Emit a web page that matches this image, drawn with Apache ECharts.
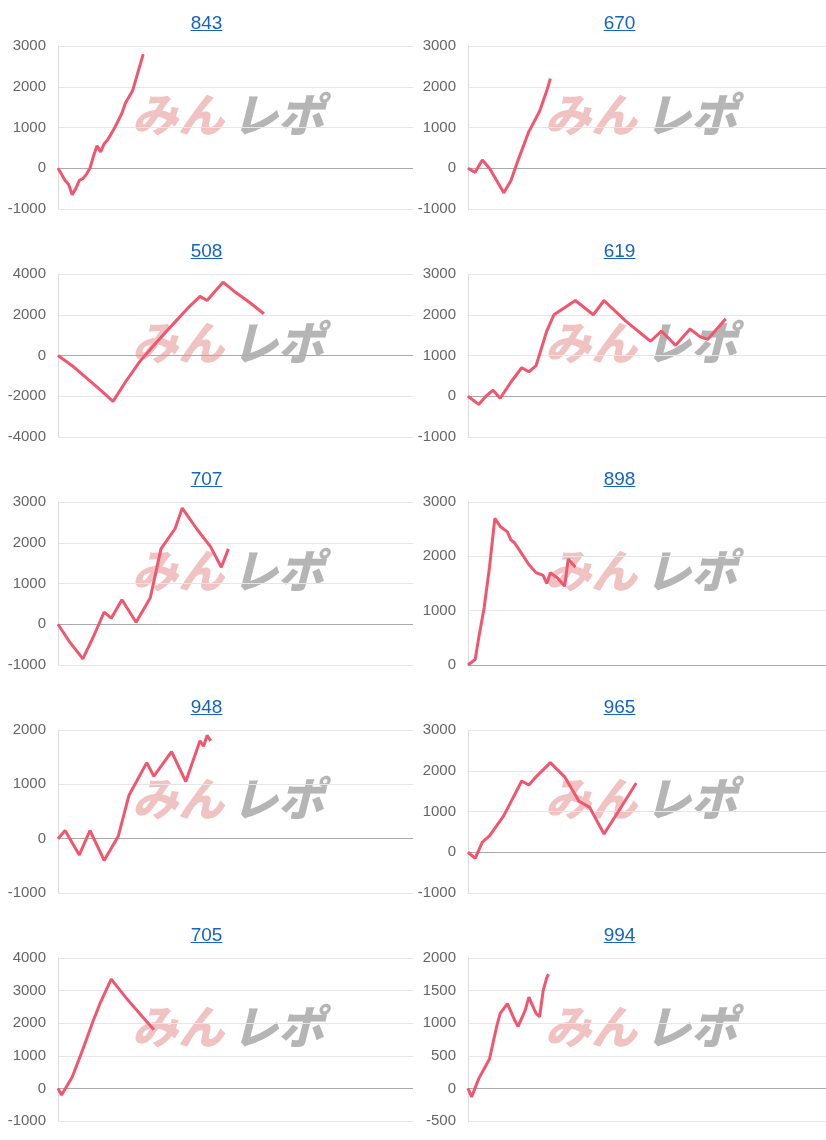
<!DOCTYPE html>
<html>
<head>
<meta charset="utf-8">
<script src="https://cdn.jsdelivr.net/npm/echarts@6/dist/echarts.min.js"></script>
<style>
  body { margin: 0; background: #fff; font-family: Arial, "Liberation Sans", sans-serif; }
  #wrap { position: relative; width: 826px; height: 1140px; }
  .panel { position: absolute; width: 413px; height: 228px; }
  .panel a { position: absolute; left: 0; right: 0; top: 12px; text-align: center; color: #1565c0; font-size: 19px; text-decoration: underline; z-index: 2; }
  .chart { position: absolute; left: 0; top: 0; width: 413px; height: 228px; }
</style>
</head>
<body>
<div id="wrap"></div>
<script>
// [step, balance] pairs, step axis runs 0..100
const titles = ['843', '670', '508', '619', '707', '898', '948', '965', '705', '994']
const s843 = [[0,0],[1,-150],[2,-300],[3,-400],[4,-650],[5,-500],[6,-300],[7,-250],[8,-150],[9,0],[10,300],[11,550],[12,400],[13,600],[14,700],[16,1000],[18,1350],[19,1600],[21,1900],[22,2200],[23,2500],[24,2800]]
const s670 = [[0,0],[2,-100],[4,200],[6,0],[8,-300],[10,-600],[12,-300],[14,200],[17,900],[20,1400],[22,1900],[23,2200]]
const s508 = [[0,0],[4,-500],[8,-1100],[12,-1700],[15.5,-2250],[19,-1300],[23,-300],[28,700],[33,1650],[37,2400],[40,2900],[42,2700],[44,3100],[46.5,3600],[50,3100],[54,2600],[58,2050]]
const s619 = [[0,0],[3,-200],[5,0],[7,150],[9,-50],[12,350],[15,700],[17,600],[19,750],[22,1600],[24,2000],[30,2350],[35,2000],[38,2350],[44,1850],[51,1350],[54,1600],[58,1250],[62,1650],[65,1450],[67,1400],[72,1900]]
const s707 = [[0,0],[3,-400],[7,-850],[10,-300],[13,300],[15,150],[18,600],[22,50],[26,650],[29,1850],[33,2350],[35,2850],[39,2350],[43,1900],[46,1400],[48,1850]]
const s898 = [[0,0],[2,100],[3,500],[4.5,1050],[6,1800],[7.5,2700],[9,2550],[11,2450],[12,2300],[13,2250],[15,2050],[17,1850],[19,1700],[21,1650],[22,1500],[23,1700],[25,1600],[27,1450],[28,1950],[30,1800]]
const s948 = [[0,0],[2,150],[6,-300],[9,150],[13,-400],[17,50],[20,800],[25,1400],[27,1150],[32,1600],[36,1050],[40,1800],[41,1700],[42,1900],[43,1800]]
const s965 = [[0,0],[2,-150],[4,250],[6,400],[10,900],[15,1750],[17,1650],[19,1850],[23,2200],[27,1850],[31,1250],[34,1100],[38,450],[42,1000],[47,1700]]
const s705 = [[0,0],[1,-200],[4,350],[7,1200],[10,2100],[12,2650],[15,3350],[19,2800],[23,2300],[27,1800]]
const s994 = [[0,0],[1,-130],[3,150],[6,450],[8,950],[9,1150],[11,1300],[13,1050],[14,950],[16,1200],[17,1400],[19,1150],[20,1100],[21,1500],[22,1700],[22.5,1750]]
const seriesData = [s843, s670, s508, s619, s707, s898, s948, s965, s705, s994]
const yMin = [-1000, -1000, -4000, -1000, -1000, 0, -1000, -1000, -1000, -500]
const yMax = [3000, 3000, 4000, 3000, 3000, 3000, 2000, 3000, 4000, 2000]
const yStep = [1000, 1000, 2000, 1000, 1000, 1000, 1000, 1000, 1000, 500]

const wrap = document.getElementById('wrap')
titles.forEach((t, i) => {
  const col = i % 2, row = Math.floor(i / 2)
  const panel = document.createElement('div')
  panel.className = 'panel'
  panel.style.left = col * 413 + 'px'
  panel.style.top = row * 228 + 'px'
  panel.innerHTML = '<a href="#">' + t + '</a><div class="chart"></div>'
  wrap.appendChild(panel)
  const chart = echarts.init(panel.querySelector('.chart'))
  chart.setOption({
    animation: false,
    grid: { left: col ? 55 : 58, right: 0, top: 46, bottom: 19 },
    graphic: [{
      type: 'text', left: 132, top: 92, z: 0,
      style: { text: 'みん', fill: 'rgba(222,120,120,0.45)', font: 'italic 900 46px "Noto Sans CJK JP"' }
    }, {
      type: 'text', left: 232, top: 92, z: 0,
      style: { text: 'レポ', fill: 'rgba(150,150,150,0.7)', font: 'italic 900 46px "Noto Sans CJK JP"' }
    }],
    xAxis: {
      type: 'value', min: 0, max: 100,
      axisLine: { onZero: true, lineStyle: { color: '#aaa' } },
      axisTick: { show: false }, axisLabel: { show: false }, splitLine: { show: false }
    },
    yAxis: {
      type: 'value', min: yMin[i], max: yMax[i], interval: yStep[i],
      axisLine: { show: true, lineStyle: { color: '#ddd' } },
      axisTick: { show: false },
      axisLabel: { color: '#666', fontSize: 15, margin: 12, fontFamily: 'Liberation Sans', formatter: v => String(v) },
      splitLine: { lineStyle: { color: '#e6e6e6' } }
    },
    series: [{
      type: 'line', data: seriesData[i], showSymbol: false, z: 3,
      lineStyle: { color: '#f2566f', width: 3 }
    }]
  })
})
</script>
</body>
</html>
